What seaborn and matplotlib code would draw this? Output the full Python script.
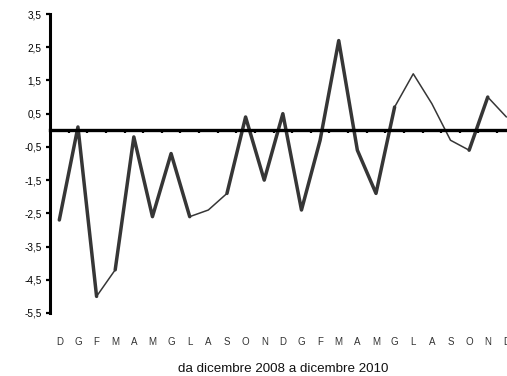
import matplotlib
matplotlib.use('Agg')
import matplotlib.pyplot as plt
import numpy as np
import seaborn as sns

# da dicembre 2008 a dicembre 2010
months = ["D", "G", "F", "M", "A", "M", "G", "L", "A", "S", "O", "N",
          "D", "G", "F", "M", "A", "M", "G", "L", "A", "S", "O", "N", "D"]
values = [-2.7, 0.1, -5.0, -4.2, -0.2, -2.6, -0.7, -2.6, -2.4, -1.9, 0.4, -1.5,
          0.5, -2.4, -0.3, 2.7, -0.6, -1.9, 0.7, 1.7, 0.8, -0.3, -0.6, 1.0, 0.4]
y_ticks = [-5.5, -4.5, -3.5, -2.5, -1.5, -0.5, 0.5, 1.5, 2.5, 3.5]

# segments (start index) that are drawn with the thin stroke
thin_segments = {2, 7, 8, 18, 19, 20, 21, 23}

sns.set_theme(style="white")
plt.rcParams['font.family'] = ['Liberation Sans', 'DejaVu Sans']

fig = plt.figure(figsize=(5.07, 3.76), dpi=100)
ax = fig.add_axes([50 / 507, 63 / 376, 465.7 / 507, 299 / 376])

x = np.arange(len(values))
line_col = "#363636"

# thin base line over the whole series
sns.lineplot(x=x, y=values, ax=ax, color=line_col, linewidth=1.1,
             solid_joinstyle="round", solid_capstyle="round")

# thick runs on top
runs, start = [], 0
for i in range(len(values) - 1):
    if i in thin_segments:
        if i > start:
            runs.append((start, i))
        start = i + 1
if start < len(values) - 1:
    runs.append((start, len(values) - 1))
for a, b in runs:
    sns.lineplot(x=x[a:b + 1], y=values[a:b + 1], ax=ax, color=line_col,
                 linewidth=2.5, solid_joinstyle="round", solid_capstyle="round")

ax.set_xlim(-0.5, len(values) - 0.5)
ax.set_ylim(-5.5, 3.5)

# y axis
ax.set_yticks(y_ticks)
ax.set_yticklabels([f"{v:.1f}".replace(".", ",") for v in y_ticks], fontsize=7.2)
ax.spines['left'].set_linewidth(2.2)
ax.spines['left'].set_color("black")
ax.tick_params(axis='y', direction='out', length=3, width=1.6, color="black",
               pad=3, labelcolor="black", left=True)

# category axis crossing at zero
ax.spines['bottom'].set_position(('data', 0))
ax.spines['bottom'].set_linewidth(2.4)
ax.spines['bottom'].set_color("black")
ax.spines['top'].set_visible(False)
ax.spines['right'].set_visible(False)
ax.set_xticks(np.arange(0.5, len(values) - 1, 1.0))
ax.tick_params(axis='x', direction='out', length=2.5, width=1.6, color="black",
               labelbottom=False, bottom=True)
ax.set_xlabel("")
ax.set_ylabel("")
ax.grid(False)

# month labels at the bottom of the plot area
sec = ax.secondary_xaxis('bottom')
sec.set_xticks(x)
sec.set_xticklabels(months, fontsize=7, color="#333333",
                    family=['Liberation Sans Narrow', 'Liberation Sans'])
sec.tick_params(axis='x', length=0, pad=17)
sec.spines['bottom'].set_visible(False)
sec.set_xlabel("da dicembre 2008 a dicembre 2010", fontsize=9.6, color="#111111",
               family=['Liberation Sans Narrow', 'Liberation Sans'], labelpad=12)

fig.savefig("out.png", dpi=100)
